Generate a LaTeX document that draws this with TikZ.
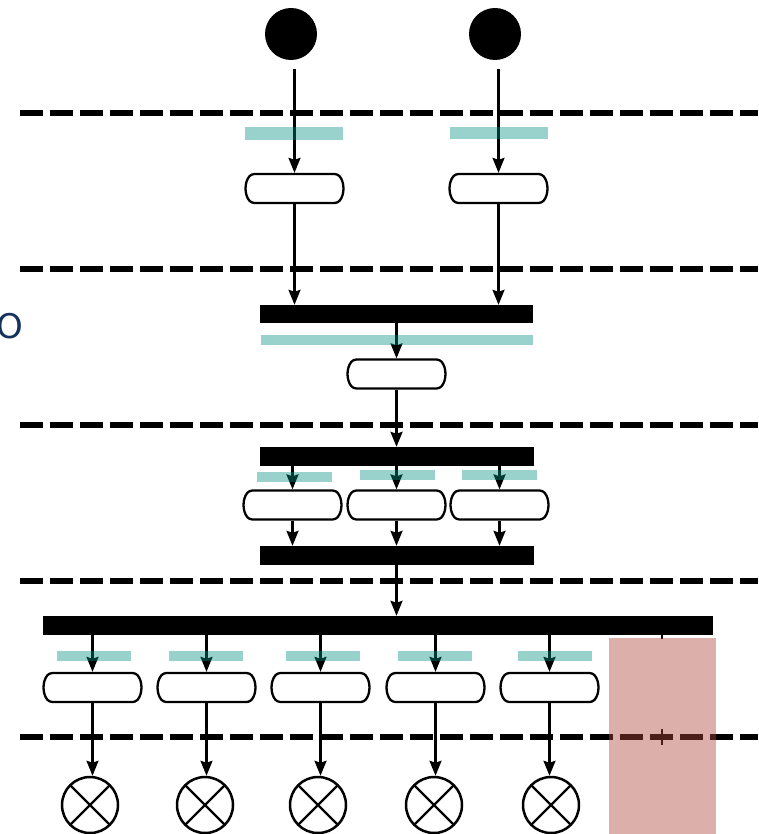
\documentclass[tikz,border=0pt]{standalone}
\usepackage{fontspec}
\setsansfont{DejaVu Sans}
\usetikzlibrary{shapes.misc, arrows.meta}

\definecolor{guardteal}{RGB}{0,140,130}
\definecolor{zonepink}{RGB}{174,70,58}
\definecolor{labelblue}{RGB}{20,50,90}

\tikzstyle{initial} = [circle, fill=black, minimum size=52pt, inner sep=0pt]
\tikzstyle{final} = [
  circle,
  draw=black,
  line width=2.5pt,
  minimum size=56pt,
  inner sep=0pt,
  path picture={
    \draw[line width=2.3pt] (path picture bounding box.north west) -- (path picture bounding box.south east)
      (path picture bounding box.north east) -- (path picture bounding box.south west);
  }
]
\tikzstyle{action} = [
  rounded rectangle,
  rounded rectangle arc length=80,
  rounded corners=3pt,
  draw=black,
  line width=2.3pt,
  fill=white,
  minimum width=97pt,
  minimum height=29pt,
  inner sep=0pt
]
\tikzstyle{bar} = [rectangle, fill=black, inner sep=0pt, minimum height=18pt]
\tikzstyle{guard} = [rectangle, fill=guardteal, fill opacity=0.4, inner sep=0pt, minimum height=11pt]
\tikzstyle{lane} = [line width=5.5pt, dash pattern=on 23pt off 7pt]
\tikzstyle{flow} = [line width=2.3pt, -{Stealth[length=15pt, width=12pt, inset=2pt]}]

\begin{document}
\begin{tikzpicture}[x=1pt, y=-1pt]
    \useasboundingbox (0,0) rectangle (758,834);

    % Lineas de carril
    \foreach \ly in {113,269,425,581,737}
        \draw[lane] (20,\ly) -- (758,\ly);

    \node (lanelabel) [anchor=east, inner sep=0pt, text=labelblue, font=\sffamily\fontsize{34}{38}\selectfont] at (23,326) {O};

    % Nodos iniciales
    \node (start1) [initial] at (291,34) {};
    \node (start2) [initial] at (495,34) {};

    % Primer nivel
    \node (act1) [action] at (294.5,188.5) {};
    \node (act2) [action] at (498.5,188.5) {};
    \node (join1) [bar, minimum width=273pt] at (396.5,314) {};
    \node (act3) [action] at (396.5,374) {};

    % Bifurcacion en tres
    \node (fork1) [bar, minimum width=274pt, minimum height=19pt] at (396.5,456.5) {};
    \node (act4a) [action] at (292.5,505) {};
    \node (act4b) [action] at (396.5,505) {};
    \node (act4c) [action] at (499.5,505) {};
    \node (join2) [bar, minimum width=274pt, minimum height=19pt] at (396.5,555.5) {};

    % Bifurcacion en cinco
    \node (fork2) [bar, minimum width=670pt, minimum height=19pt] at (378,625.5) {};
    \node (act5a) [action] at (92.5,687.5) {};
    \node (act5b) [action] at (206.5,687.5) {};
    \node (act5c) [action] at (320.5,687.5) {};
    \node (act5d) [action] at (435.5,687.5) {};
    \node (act5e) [action] at (549.5,687.5) {};

    % Nodos finales de flujo
    \node (end1) [final] at (90,805) {};
    \node (end2) [final] at (205,805) {};
    \node (end3) [final] at (318,805) {};
    \node (end4) [final] at (434,805) {};
    \node (end5) [final] at (551,805) {};

    % Flechas
    \draw [flow, shorten <=9pt] (start1.south -| act1) -- (act1);
    \draw [flow, shorten <=9pt] (start2.south -| act2) -- (act2);
    \draw [flow] (act1) -- (act1 |- join1.north);
    \draw [flow] (act2) -- (act2 |- join1.north);
    \draw [flow] (join1.south -| act3) -- (act3);
    \draw [flow] (act3) -- (act3 |- fork1.north);

    \foreach \a in {act4a, act4b, act4c} {
        \draw [flow] (fork1.south -| \a) -- (\a);
        \draw [flow] (\a) -- (\a |- join2.north);
    }
    \draw [flow] (join2.south) -- (join2.south |- fork2.north);

    \foreach \a/\e in {act5a/end1, act5b/end2, act5c/end3, act5d/end4, act5e/end5} {
        \draw [flow] (fork2.south -| \a) -- (\a);
        \draw [flow] (\a) -- (\a |- \e.north);
    }

    % Guardas
    \node (guard1) [guard, minimum width=98pt, minimum height=13pt] at (294,133.5) {};
    \node (guard2) [guard, minimum width=98pt, minimum height=12pt] at (499,133) {};
    \node (guard3) [guard, minimum width=272pt, minimum height=10pt] at (397,340) {};
    \node (guard4a) [guard, minimum width=75pt, minimum height=10pt] at (294.5,477) {};
    \node (guard4b) [guard, minimum width=75pt, minimum height=10pt] at (397.5,475) {};
    \node (guard4c) [guard, minimum width=75pt, minimum height=10pt] at (499.5,475) {};
    \foreach \gx [count=\i] in {94,206,322.5,434.5,554.5}
        \node (guard5\i) [guard, minimum width=74pt, minimum height=10pt] at (\gx,656) {};

    % Zona resaltada
    \draw[line width=2pt] (662,633) -- (662,639);
    \draw[line width=2pt] (662,729) -- (662,745);
    \node (zone) [rectangle, fill=zonepink, fill opacity=0.43, inner sep=0pt, minimum width=107pt, minimum height=196pt] at (662.5,736) {};

\end{tikzpicture}
\end{document}
